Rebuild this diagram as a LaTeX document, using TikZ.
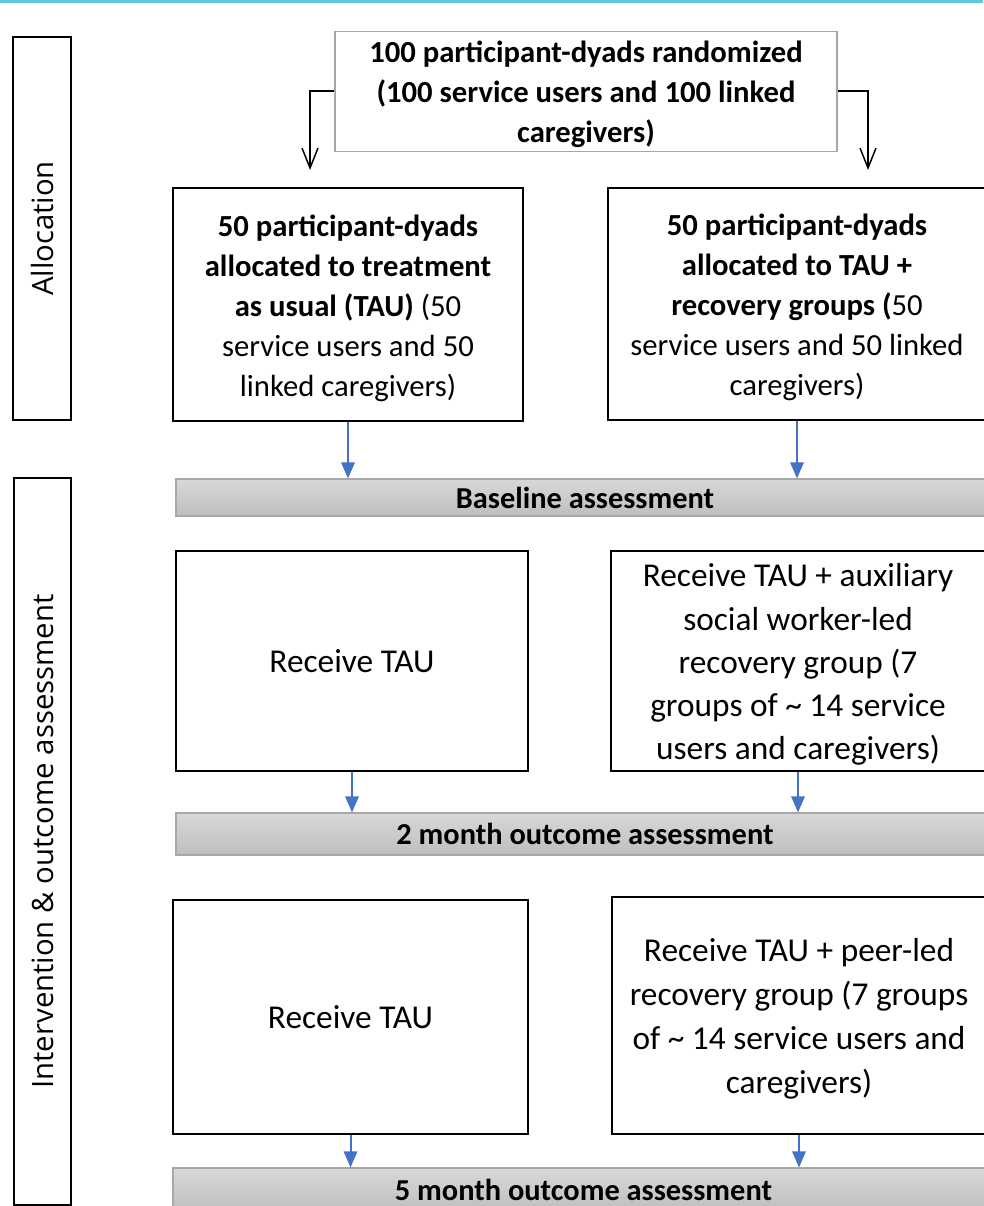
\documentclass[tikz,border=0pt]{standalone}
\usepackage{fontspec}
\setmainfont{Carlito}
\newfontfamily\labfont{Open Sans}
\usetikzlibrary{arrows.meta}
\definecolor{topline}{HTML}{5CC8DA}
\definecolor{arrblue}{HTML}{4472C4}
\definecolor{barline}{HTML}{A8A8A8}
\definecolor{barlight}{HTML}{D8D8D8}
\definecolor{bardark}{HTML}{BEBEBE}
\newdimen\px \px=0.75pt
\newcommand\lowtxt[1]{\raisebox{-3.5\px}[\height][\depth]{\begin{tabular}{@{}c@{}}#1\end{tabular}}}
\begin{document}
\begin{tikzpicture}[x=0.75pt,y=-0.75pt,
  boxtext/.style={font=\fontsize{23}{30}\selectfont, align=center, inner sep=0pt},
  thinbox/.style={boxtext, draw=black, line width=1.1pt},
  thickbox/.style={boxtext, draw=black, line width=2.2pt},
  midbox/.style={boxtext, draw=black, line width=1.6pt},
  topbox/.style={boxtext, draw=gray!70, line width=0.8pt},
  barbox/.style={draw=barline, line width=0.8pt, top color=barlight, bottom color=bardark, inner sep=0pt, font=\fontsize{22.8}{24}\selectfont\bfseries},
  sidebox/.style={draw=black, line width=2.2pt, inner sep=0pt, rotate=90, font=\labfont\fontsize{22}{26}\selectfont},
  openarrow/.style={draw=black, line width=1.5pt, -{Straight Barb[length=15pt,width=12pt,line width=1.1pt]}},
  bluearrow/.style={draw=arrblue, line width=1.5pt, -{Triangle[length=12pt,width=10pt]}}
]
\useasboundingbox (0,0) rectangle (983,1206);
\fill[topline] (0,0) rectangle (983,3);

% side labels
\node[sidebox, minimum width=383\px, minimum height=58\px] (lalloc) at (42,228.5) {Allocation};
\node[sidebox, minimum width=727\px, minimum height=57\px] (linter) at (42.5,841.5) {Intervention \& outcome assessment};

% top box
\node[topbox, minimum width=502\px, minimum height=109\px] (top) at (586,91.5)
  {\lowtxt{\textbf{100 participant-dyads randomized}\\\textbf{(100 service users and 100 linked}\\\textbf{caregivers)}}};
\coordinate (la) at (310,170);
\coordinate (ra) at (868,170);
\draw[openarrow] (top.west) -| (la);
\draw[openarrow] (top.east) -| (ra);

% allocation boxes
\node[thinbox, minimum width=350\px, minimum height=233\px] (a1) at (348,304.5)
  {\lowtxt{\textbf{50 participant-dyads}\\\textbf{allocated to treatment}\\\textbf{as usual (TAU)} (50\\service users and 50\\linked caregivers)}};
\node[thinbox, minimum width=378\px, minimum height=232\px] (a2) at (797,304)
  {\lowtxt{\textbf{50 participant-dyads}\\\textbf{allocated to TAU +}\\\textbf{recovery groups (}50\\service users and 50 linked\\caregivers)}};

\node[barbox, minimum width=818\px, minimum height=37\px] (base) at (585,497.5) {Baseline assessment};
\draw[bluearrow] (a1.south) -- (a1.south |- base.north);
\draw[bluearrow] (a2.south) -- (a2.south |- base.north);

% first intervention row
\node[thickbox, minimum width=352\px, minimum height=220\px] (b1) at (352,661) {\fontsize{25}{32}\selectfont Receive TAU};
\node[thickbox, minimum width=374\px, minimum height=220\px, font=\fontsize{25}{32.3}\selectfont] (b2) at (798,661)
  {\lowtxt{Receive TAU + auxiliary\\social worker-led\\recovery group (7\\groups of \textasciitilde{} 14 service\\users and caregivers)}};

\node[barbox, minimum width=818\px, minimum height=42\px] (m2) at (585,834) {2 month outcome assessment};
\draw[bluearrow] (b1.south) -- (b1.south |- m2.north);
\draw[bluearrow] (b2.south) -- (b2.south |- m2.north);

% second intervention row
\node[midbox, minimum width=355\px, minimum height=234\px] (c1) at (350.5,1017) {\fontsize{25}{32}\selectfont Receive TAU};
\node[midbox, minimum width=374\px, minimum height=237\px, font=\fontsize{25}{33}\selectfont] (c2) at (799,1015.5)
  {\lowtxt{Receive TAU + peer-led\\recovery group (7 groups\\of \textasciitilde{} 14 service users and\\caregivers)}};

\node[barbox, minimum width=821\px, minimum height=44\px] (m5) at (583.5,1190) {5 month outcome assessment};
\draw[bluearrow] (c1.south) -- (c1.south |- m5.north);
\draw[bluearrow] (c2.south) -- (c2.south |- m5.north);
\end{tikzpicture}
\end{document}
